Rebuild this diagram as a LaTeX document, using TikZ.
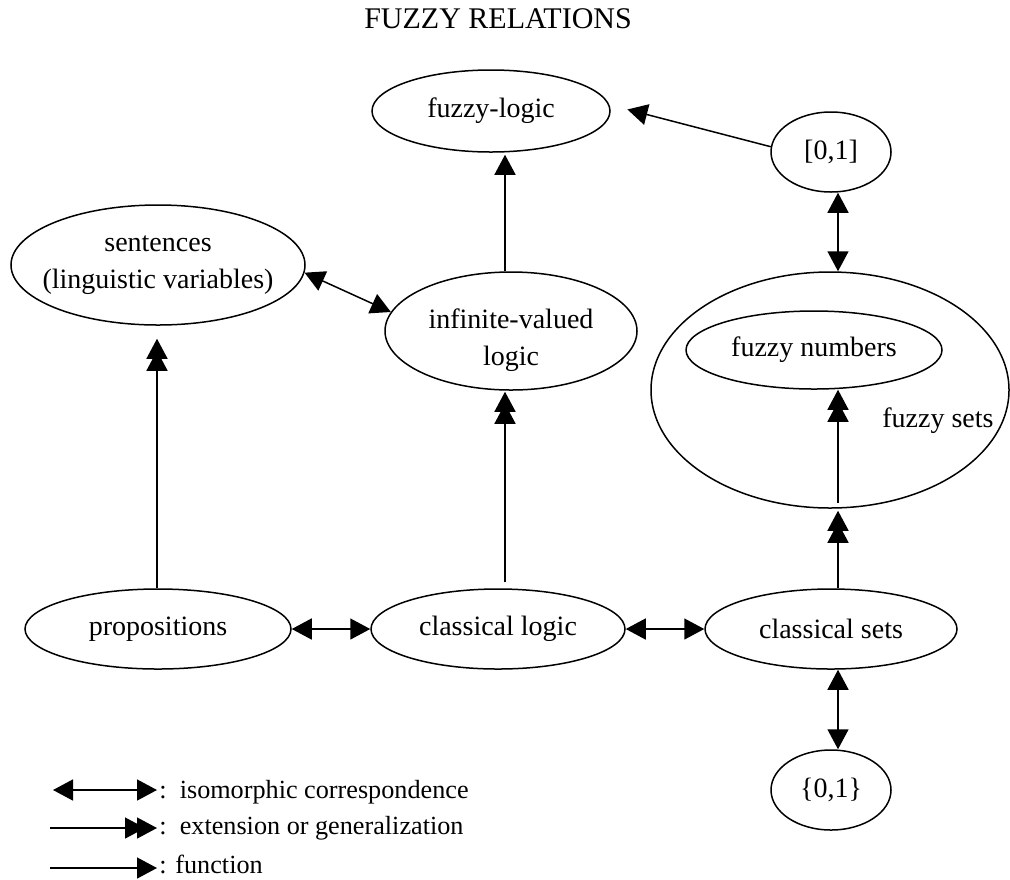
\documentclass[tikz,border=0pt]{standalone}
\usepackage{fontspec}
\setmainfont{Liberation Serif}
\usetikzlibrary{arrows.meta,shapes.geometric}
\tikzset{
  el/.style={ellipse, draw, line width=0.75pt, inner sep=0pt},
  iso/.style={line width=0.75pt, {Triangle[length=10pt,width=10.5pt]}-{Triangle[length=10pt,width=10.5pt]}},
  ext/.style={line width=0.75pt, -{Triangle[length=10pt,width=10.5pt,sep=-4pt] Triangle[length=10pt,width=10.5pt]}},
  fnc/.style={line width=0.75pt, -{Triangle[length=10pt,width=10.5pt]}},
  lbl/.style={inner sep=0pt, anchor=base west},
  legtxt/.style={lbl, font=\fontsize{13.1}{16}\selectfont},
  txt/.style={inner sep=0pt, align=center},
}
\begin{document}
\begin{tikzpicture}[x=0.5pt,y=-0.5pt, font=\fontsize{14}{18.5}\selectfont]
\useasboundingbox (0,0) rectangle (1010,879);
\node[inner sep=0pt, anchor=base, font=\fontsize{15}{18}\selectfont] (title) at (498,28) {FUZZY RELATIONS};
% nodes
\node[el, minimum width=119pt, minimum height=41pt] (fl) at (491,111) {};
\node[txt] (flt) at (fl) {fuzzy-logic};
\node[el, minimum width=60pt, minimum height=40pt] (zo) at (831,152) {};
\node[txt] (zot) at (zo) {[0,1]};
\node[el, minimum width=147pt, minimum height=60pt] (sent) at (158,265) {};
\node[txt] (sentt) at (sent) {sentences\\(linguistic variables)};
\node[el, minimum width=126pt, minimum height=59pt] (inf) at (511,331) {};
\node[txt, yshift=-4.5pt] (inft) at (inf) {infinite-valued\\logic};
\node[el, minimum width=179pt, minimum height=118pt] (fs) at (830,390) {};
\node[el, minimum width=128pt, minimum height=39pt] (fn) at (814,350) {};
\node[txt] (fnt) at (fn) {fuzzy numbers};
\node[lbl] (fslbl) at (882,427) {fuzzy sets};
\node[el, minimum width=133pt, minimum height=40pt] (prop) at (158,629) {};
\node[txt] (propt) at (prop) {propositions};
\node[el, minimum width=127pt, minimum height=40pt] (clog) at (498,629) {};
\node[txt] (clogt) at (clog) {classical logic};
\node[el, minimum width=126pt, minimum height=40pt] (cset) at (831,629) {};
\node[txt] (csett) at (cset) {classical sets};
\node[el, minimum width=60pt, minimum height=40pt] (zb) at (831,790) {};
\node[txt] (zbt) at (zb) {\{0,1\}};
% columns
\coordinate (cL) at (505,0);
\coordinate (cR) at (838,0);
\coordinate (cP) at (157,0);
% connectors
\draw[fnc, shorten >=1pt] (inf.north -| cL) -- (fl.south -| cL);
\draw[ext, shorten <=3pt, shorten >=0.5pt] (clog.north -| cL) -- (inf.south -| cL);
\draw[iso] (zo.south -| cR) -- (fs.north -| cR);
\draw[ext, shorten >=1pt] (cset.north -| cR) -- (fs.south -| cR);
\draw[ext, shorten <=3pt] (fs.south -| cR) -- (fn.south -| cR);
\draw[ext, shorten >=6.5pt] (prop.north -| cP) -- (sent.south -| cP);
\draw[iso] (cset.south -| cR) -- (zb.north -| cR);
\draw[iso] (prop) -- (clog);
\draw[iso] (clog) -- (cset);
\draw[iso] (sent.-3) -- (inf.171);
\draw[fnc, shorten >=9.3pt] (zo.175) -- (fl.3.4);
% legend
\coordinate (l1a) at (53,790); \coordinate (l1b) at (157,790);
\coordinate (l2a) at (50,828); \coordinate (l2b) at (157,828);
\coordinate (l3a) at (50,868); \coordinate (l3b) at (157,868);
\draw[iso] (l1a) -- (l1b);
\draw[ext] (l2a) -- (l2b);
\draw[fnc] (l3a) -- (l3b);
\node[legtxt] (t1) at (159,798) {:\hspace{0.5em}isomorphic correspondence};
\node[legtxt] (t2) at (159,834) {:\hspace{0.5em}extension or generalization};
\node[legtxt] (t3) at (159,873) {: function};
\end{tikzpicture}
\end{document}
